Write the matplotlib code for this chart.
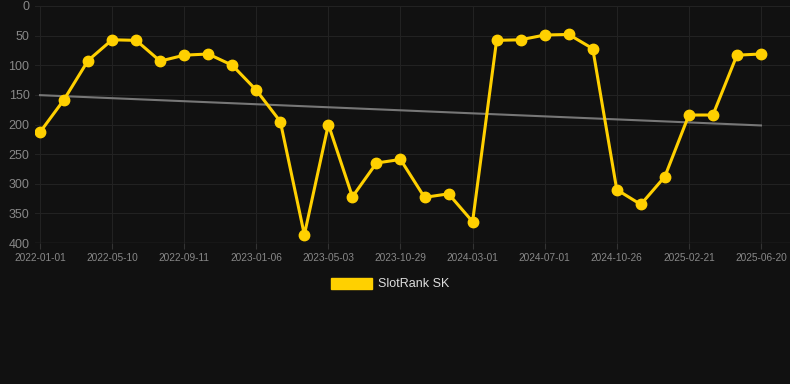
import numpy as np
import matplotlib
matplotlib.use('Agg')
import matplotlib.pyplot as plt
import matplotlib.patches as mpatches

plt.rcParams['font.family'] = ['Liberation Sans', 'DejaVu Sans']

# rank values, one point every ~6 weeks
ranks = [213, 158, 92, 57, 58, 93, 83, 81, 100, 142,
         195, 386, 200, 322, 265, 259, 323, 317, 364, 58,
         57, 49, 48, 72, 310, 335, 288, 184, 184, 83, 81]
tick_labels = ['2022-01-01', '2022-05-10', '2022-09-11', '2023-01-06', '2023-05-03',
               '2023-10-29', '2024-03-01', '2024-07-01', '2024-10-26', '2025-02-21',
               '2025-06-20']

bg = '#111111'
gold = '#FFD000'

fig = plt.figure(figsize=(7.9, 3.84), dpi=100, facecolor=bg)
ax = fig.add_axes([35/790, 1 - 243/384, 755/790, 237/384])
ax.set_facecolor(bg)

x = np.arange(len(ranks))
ax.plot(x, ranks, color=gold, lw=2.2, marker='o', ms=7.5, zorder=3)

# linear trend
k, b = np.polyfit(x, ranks, 1)
ax.plot(x, k * x + b, color='#777777', lw=1.5, zorder=2)

ax.set_xlim(-5/24, 30 + 29/24)
ax.set_ylim(400, 0)
ax.set_yticks(range(0, 401, 50))
ax.set_xticks(x[::3])
ax.set_xticklabels(tick_labels)

ax.grid(True, color='#222222', lw=0.8)
for s in ax.spines.values():
    s.set_visible(False)
ax.axhline(400, color='#333333', lw=1, zorder=1)
ax.tick_params(axis='y', colors='#888888', labelsize=9, length=0, pad=4)
ax.tick_params(axis='x', colors='#888888', labelsize=7.3, length=4, pad=3)
ax.tick_params(axis='x', color='#333333')

leg = fig.legend(handles=[mpatches.Patch(color=gold, label='SlotRank SK')],
                 loc='center', bbox_to_anchor=(390/790, 1 - 284/384),
                 frameon=False, handlelength=3.3, handleheight=1.0,
                 handletextpad=0.5, fontsize=9, labelcolor='#dddddd')

fig.savefig('out.png', dpi=100, facecolor=bg)
